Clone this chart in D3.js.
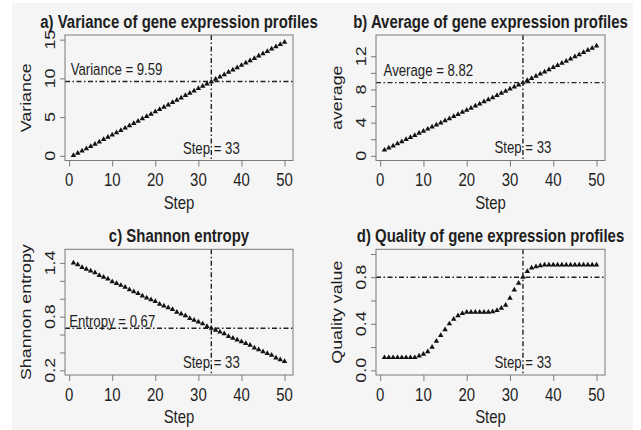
<!DOCTYPE html>
<html>
<head>
<meta charset="utf-8">
<script src="https://cdn.jsdelivr.net/npm/d3@7"></script>
<style>
  body { margin: 0; background: #ffffff; }
  text { font-family: "Liberation Sans", Arial, sans-serif; fill: #1e1e1e; }
</style>
</head>
<body>
<div id="wrapper"></div>
<script>
// 1. Data
const steps = d3.range(1, 51)

const varianceValues = [
  0.05, 0.34, 0.63, 0.93, 1.22, 1.52, 1.81, 2.11, 2.40, 2.70,
  3.00, 3.29, 3.59, 3.89, 4.19, 4.49, 4.79, 5.09, 5.39, 5.69,
  5.99, 6.29, 6.59, 6.89, 7.19, 7.49, 7.79, 8.09, 8.39, 8.69,
  8.99, 9.29, 9.59, 9.89, 10.19, 10.49, 10.79, 11.09, 11.39, 11.69,
  11.99, 12.29, 12.59, 12.89, 13.19, 13.49, 13.79, 14.09, 14.39, 14.69
]
const averageValues = [
  0.70, 0.95, 1.21, 1.46, 1.71, 1.97, 2.22, 2.47, 2.72, 2.98,
  3.23, 3.48, 3.73, 3.98, 4.24, 4.49, 4.74, 4.99, 5.25, 5.50,
  5.75, 6.01, 6.26, 6.52, 6.77, 7.02, 7.28, 7.54, 7.79, 8.05,
  8.30, 8.56, 8.82, 9.08, 9.34, 9.60, 9.86, 10.12, 10.38, 10.64,
  10.90, 11.16, 11.42, 11.68, 11.94, 12.20, 12.46, 12.72, 12.98, 13.24
]
const entropyValues = [
  1.40, 1.38, 1.35, 1.33, 1.31, 1.29, 1.26, 1.24, 1.22, 1.19,
  1.17, 1.15, 1.13, 1.10, 1.08, 1.06, 1.03, 1.01, 0.99, 0.97,
  0.94, 0.92, 0.90, 0.88, 0.85, 0.83, 0.81, 0.78, 0.76, 0.74,
  0.72, 0.69, 0.67, 0.65, 0.63, 0.61, 0.58, 0.56, 0.54, 0.52,
  0.50, 0.48, 0.45, 0.43, 0.41, 0.39, 0.37, 0.34, 0.32, 0.30
]
const qualityValues = [
  0.11, 0.11, 0.11, 0.11, 0.11, 0.11, 0.11, 0.11, 0.125, 0.14,
  0.16, 0.20, 0.25, 0.30, 0.35, 0.40, 0.44, 0.47, 0.49, 0.50,
  0.50, 0.50, 0.50, 0.50, 0.50, 0.505, 0.515, 0.535, 0.56, 0.62,
  0.69, 0.75, 0.80, 0.85, 0.88, 0.89, 0.90, 0.905, 0.905, 0.905,
  0.905, 0.905, 0.905, 0.905, 0.905, 0.905, 0.905, 0.905, 0.905, 0.905
]

const xTicks = [0, 10, 20, 30, 40, 50]
const varianceTicks = [0, 5, 10, 15]
const varianceTickLabels = [0, 5, 10, 15]
const averageTicks = [0, 2, 4, 6, 8, 10, 12]
const averageTickLabels = [0, 4, 8, 12]
const entropyTicks = [0.2, 0.4, 0.6, 0.8, 1.0, 1.2, 1.4]
const entropyTickLabels = [0.2, 0.8, 1.4]
const qualityTicks = [0, 0.2, 0.4, 0.6, 0.8, 1.0]
const qualityTickLabels = [0, 0.4, 0.8]

const selectedStep = 33
const cutValues = [9.59, 8.82, 0.67, 0.8]
const titles = [
  "a) Variance of gene expression profiles",
  "b) Average of gene expression profiles",
  "c) Shannon entropy",
  "d) Quality of gene expression profiles"
]
const yLabels = ["Variance", "average", "Shannon entropy", "Quality value"]
const cutLabels = ["Variance = 9.59", "Average = 8.82", "Entropy = 0.67", null]

// 2. Dimensions
const width = 641
const height = 430
const boxes = [
  {left: 65, right: 293, top: 35, bottom: 160.5},
  {left: 376, right: 605, top: 35, bottom: 160.5},
  {left: 65, right: 293, top: 249.3, bottom: 375},
  {left: 376, right: 605, top: 249.3, bottom: 375}
]
// the reference is squeezed a bit sideways, stretched a bit upward
const sx = 0.88, sy = 1.05

const panels = [
  {values: varianceValues, ylim: [0, 15], ticks: varianceTicks, labels: varianceTickLabels,
   fmt: d3.format("d"), note: [11, 10.4], stepY: 0.18},
  {values: averageValues, ylim: [0, 14], ticks: averageTicks, labels: averageTickLabels,
   fmt: d3.format("d"), note: [11.15, 9.62], stepY: 0.31},
  {values: entropyValues, ylim: [0.2, 1.5], ticks: entropyTicks, labels: entropyTickLabels,
   fmt: d3.format(".1f"), note: [10, 0.688], stepY: 0.223},
  {values: qualityValues, ylim: [0, 1], ticks: qualityTicks, labels: qualityTickLabels,
   fmt: d3.format(".1f"), note: null, stepY: 0.017}
]

// 3. Canvas
const svg = d3.select("#wrapper")
  .append("svg")
  .attr("width", width)
  .attr("height", height)

svg.append("rect")
  .attr("x", 12).attr("y", 3)
  .attr("width", 621).attr("height", 427)
  .attr("fill", "#f5f5f5")

function addText(g, x, y, str, size, opts = {}) {
  const t = g.append("text")
    .attr("text-anchor", opts.anchor || "middle")
    .style("font-size", size + "px")
    .text(str)
  if (opts.bold) t.style("font-weight", "bold")
  if (opts.rotate) t.attr("transform", `translate(${x},${y}) rotate(-90) scale(${sy},${sx})`)
  else t.attr("transform", `translate(${x},${y}) scale(${sx},${sy})`)
  return t
}

// R style axis ranges: 4% padding on each side
const pad = ([lo, hi]) => [lo - 0.04 * (hi - lo), hi + 0.04 * (hi - lo)]

panels.forEach((p, i) => {
  const box = boxes[i]
  const g = svg.append("g")

  // 4. Scales
  const xScale = d3.scaleLinear()
    .domain(pad(d3.extent(steps)))
    .range([box.left, box.right])
  const yScale = d3.scaleLinear()
    .domain(pad(p.ylim))
    .range([box.bottom, box.top])

  // 5. Draw data
  g.selectAll(".pt")
    .data(steps)
    .join("path")
    .attr("class", "pt")
    .attr("transform", (d, j) => `translate(${xScale(d)},${yScale(p.values[j])})`)
    .attr("d", d3.symbol(d3.symbolTriangle, 13))
    .attr("fill", "#111")

  // cut lines
  g.append("line")
    .attr("x1", box.left).attr("x2", box.right)
    .attr("y1", yScale(cutValues[i])).attr("y2", yScale(cutValues[i]))
    .attr("stroke", "#222").attr("stroke-width", 1.4)
    .attr("stroke-dasharray", "5,2.5,1.5,2.5")
  g.append("line")
    .attr("x1", xScale(selectedStep)).attr("x2", xScale(selectedStep))
    .attr("y1", box.top).attr("y2", box.bottom)
    .attr("stroke", "#222").attr("stroke-width", 1.4)
    .attr("stroke-dasharray", "5,2.5,1.5,2.5")

  // 6. Peripherals
  g.append("rect")
    .attr("x", box.left).attr("y", box.top)
    .attr("width", box.right - box.left).attr("height", box.bottom - box.top)
    .attr("fill", "none").attr("stroke", "#7a7a7a").attr("stroke-width", 1)

  const xAxis = g.append("g")
    .attr("transform", `translate(0,${box.bottom})`)
    .call(d3.axisBottom(xScale).tickValues(xTicks).tickSize(6).tickFormat(""))
  const yAxis = g.append("g")
    .attr("transform", `translate(${box.left},0)`)
    .call(d3.axisLeft(yScale).tickValues(p.ticks).tickSize(5).tickFormat(""))
  ;[xAxis, yAxis].forEach(a => {
    a.select(".domain").remove()
    a.selectAll("line").attr("stroke", "#7a7a7a")
  })

  xTicks.forEach(t => addText(g, xScale(t), box.bottom + 25.5, t, 17))
  p.labels.forEach(t => addText(g, box.left - 10, yScale(t), p.fmt(t), 17, {rotate: true}))

  addText(g, (box.left + box.right) / 2, box.top - 7, titles[i], 17, {bold: true})
  addText(g, (box.left + box.right) / 2, box.bottom + 48, "Step", 17)
  addText(g, box.left - 34, (box.top + box.bottom) / 2, yLabels[i], 17, {rotate: true})

  // annotations
  if (p.note) addText(g, xScale(p.note[0]), yScale(p.note[1]), cutLabels[i], 15)
  addText(g, xScale(selectedStep), yScale(p.stepY), "Step = " + selectedStep, 15)
})
</script>
</body>
</html>
